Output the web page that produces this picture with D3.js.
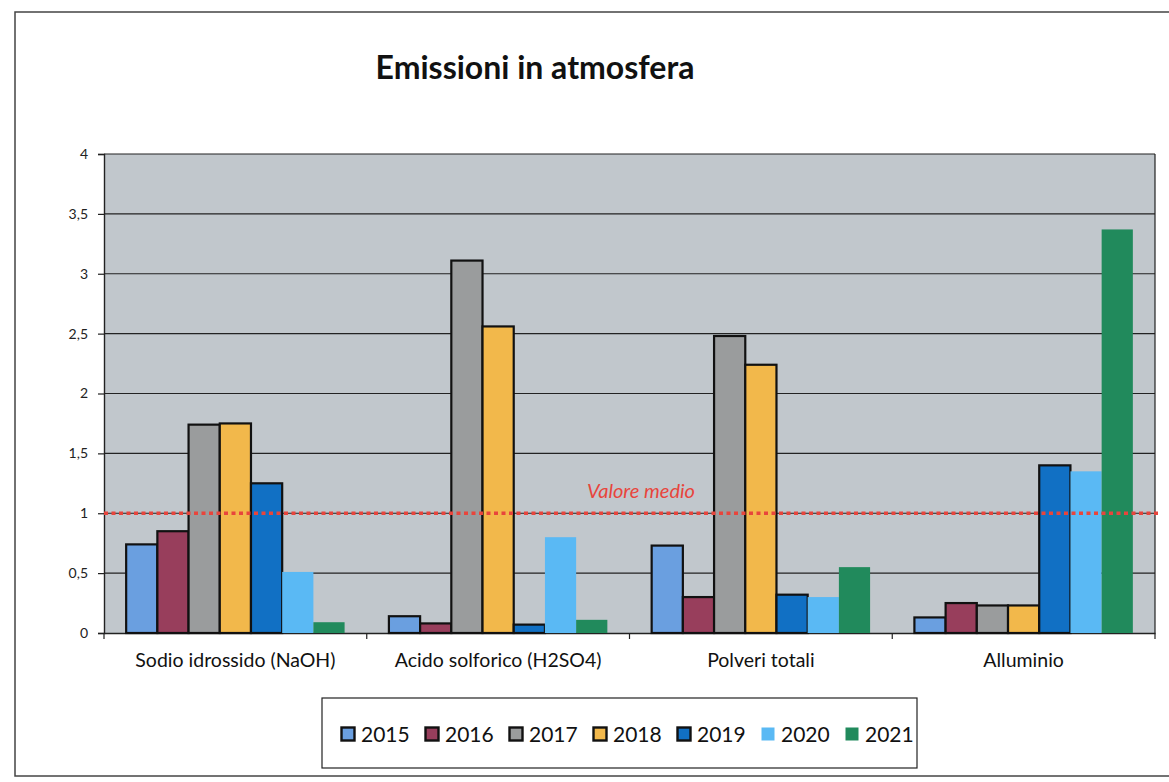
<!DOCTYPE html>
<html><head><meta charset="utf-8">
<script src="https://cdn.jsdelivr.net/npm/d3@7"></script>
<style>body{margin:0;background:#fff}svg{display:block}</style>
</head><body>
<svg id="c" width="1169" height="782"></svg>
<script>
const categories = ["Sodio idrossido (NaOH)", "Acido solforico (H2SO4)", "Polveri totali", "Alluminio"];
const years = ["2015", "2016", "2017", "2018", "2019", "2020", "2021"];
const v2015 = [0.74, 0.14, 0.73, 0.13];
const v2016 = [0.85, 0.08, 0.30, 0.25];
const v2017 = [1.74, 3.11, 2.48, 0.23];
const v2018 = [1.75, 2.56, 2.24, 0.23];
const v2019 = [1.25, 0.07, 0.32, 1.40];
const v2020 = [0.51, 0.80, 0.30, 1.35];
const v2021 = [0.09, 0.11, 0.55, 3.37];
const yTicks = [0, 0.5, 1, 1.5, 2, 2.5, 3, 3.5, 4];
const meanValue = 1;
const series = [v2015, v2016, v2017, v2018, v2019, v2020, v2021];
const colors = ["#6a9fe0", "#983e5c", "#9a9c9d", "#f2b84b", "#1170c4", "#5ab9f4", "#218a5c"];
const outlined = [true, true, true, true, true, false, false];

const svg = d3.select("#c");
const L = 104, R = 1155, T = 154, B = 633;
const font = "Lato, 'Open Sans', sans-serif";

// outer frame (scanned page border)
svg.append("rect").attr("x", 15).attr("y", 12).attr("width", 1165).attr("height", 764)
  .attr("fill", "#fff").attr("stroke", "#444").attr("stroke-width", 1.5);

svg.append("text").attr("x", 535).attr("y", 79).attr("text-anchor", "middle")
  .attr("font-family", font).attr("font-weight", "bold").attr("font-size", 32)
  .attr("fill", "#111").text("Emissioni in atmosfera");

const y = d3.scaleLinear().domain([0, 4]).range([B, T]);
const x0 = d3.scaleBand().domain(categories).range([L, R]).paddingInner(0).paddingOuter(0);
const x1 = d3.scaleBand().domain(years).range([0, x0.bandwidth()]).paddingInner(0).paddingOuter(0.71);

svg.append("rect").attr("x", L).attr("y", T).attr("width", R - L).attr("height", B - T)
  .attr("fill", "#c1c7cc");

// gridlines
svg.append("g").selectAll("line").data(yTicks.filter(d => d > 0)).join("line")
  .attr("x1", L).attr("x2", R).attr("y1", d => y(d)).attr("y2", d => y(d))
  .attr("stroke", "#222").attr("stroke-width", 1.2);

// y axis
const yAxis = d3.axisLeft(y).tickValues(yTicks).tickSize(6).tickPadding(10)
  .tickFormat(d => String(d).replace(".", ","));
const ga = svg.append("g").attr("transform", `translate(${L},0)`).call(yAxis);
ga.select(".domain").attr("stroke", "#222").attr("stroke-width", 1.4);
ga.selectAll(".tick line").attr("stroke", "#222").attr("stroke-width", 1.2);
ga.selectAll("text").attr("font-family", font).attr("font-size", 14).attr("fill", "#222");

// right border
svg.append("line").attr("x1", R).attr("x2", R).attr("y1", T).attr("y2", B + 6)
  .attr("stroke", "#222").attr("stroke-width", 1.2);

// x axis
const xAxis = d3.axisBottom(x0).tickSize(0).tickPadding(20);
const gx = svg.append("g").attr("transform", `translate(0,${B})`).call(xAxis);
gx.select(".domain").attr("stroke", "#222").attr("stroke-width", 1.4);
gx.selectAll("text").attr("font-family", font).attr("font-size", 19.5).attr("fill", "#111");
svg.append("g").selectAll("line").data(categories).join("line")
  .attr("x1", d => x0(d)).attr("x2", d => x0(d)).attr("y1", B).attr("y2", B + 6)
  .attr("stroke", "#222").attr("stroke-width", 1.2);

// bars
series.forEach((vals, si) => {
  svg.append("g").selectAll("rect").data(vals).join("rect")
    .attr("x", (d, i) => x0(categories[i]) + x1(years[si]))
    .attr("y", d => y(d))
    .attr("width", x1.bandwidth())
    .attr("height", d => B - y(d))
    .attr("fill", colors[si])
    .attr("stroke", outlined[si] ? "#111" : "none")
    .attr("stroke-width", 2.2);
});

// mean line
svg.append("line").attr("x1", L).attr("x2", R + 5).attr("y1", y(meanValue)).attr("y2", y(meanValue))
  .attr("stroke", "#e8453c").attr("stroke-width", 3.5).attr("stroke-dasharray", "4,3.5");
svg.append("text").attr("x", 641).attr("y", y(meanValue) - 15).attr("text-anchor", "middle")
  .attr("font-family", font).attr("font-style", "italic").attr("font-size", 20)
  .attr("fill", "#e8453c").text("Valore medio");

// legend
svg.append("rect").attr("x", 322).attr("y", 698).attr("width", 595).attr("height", 70)
  .attr("fill", "#fff").attr("stroke", "#222").attr("stroke-width", 1.2);
const lg = svg.append("g").selectAll("g").data(years).join("g")
  .attr("transform", (d, i) => `translate(${348 + i * 84},734)`);
lg.append("rect").attr("x", -6.5).attr("y", -6.5).attr("width", 13).attr("height", 13)
  .attr("fill", (d, i) => colors[i]).attr("stroke", (d, i) => outlined[i] ? "#111" : "none").attr("stroke-width", 2.4);
lg.append("text").attr("x", 13).attr("y", 7.5).attr("font-family", font).attr("font-size", 21)
  .attr("fill", "#111").text(d => d);
</script>
</body></html>
